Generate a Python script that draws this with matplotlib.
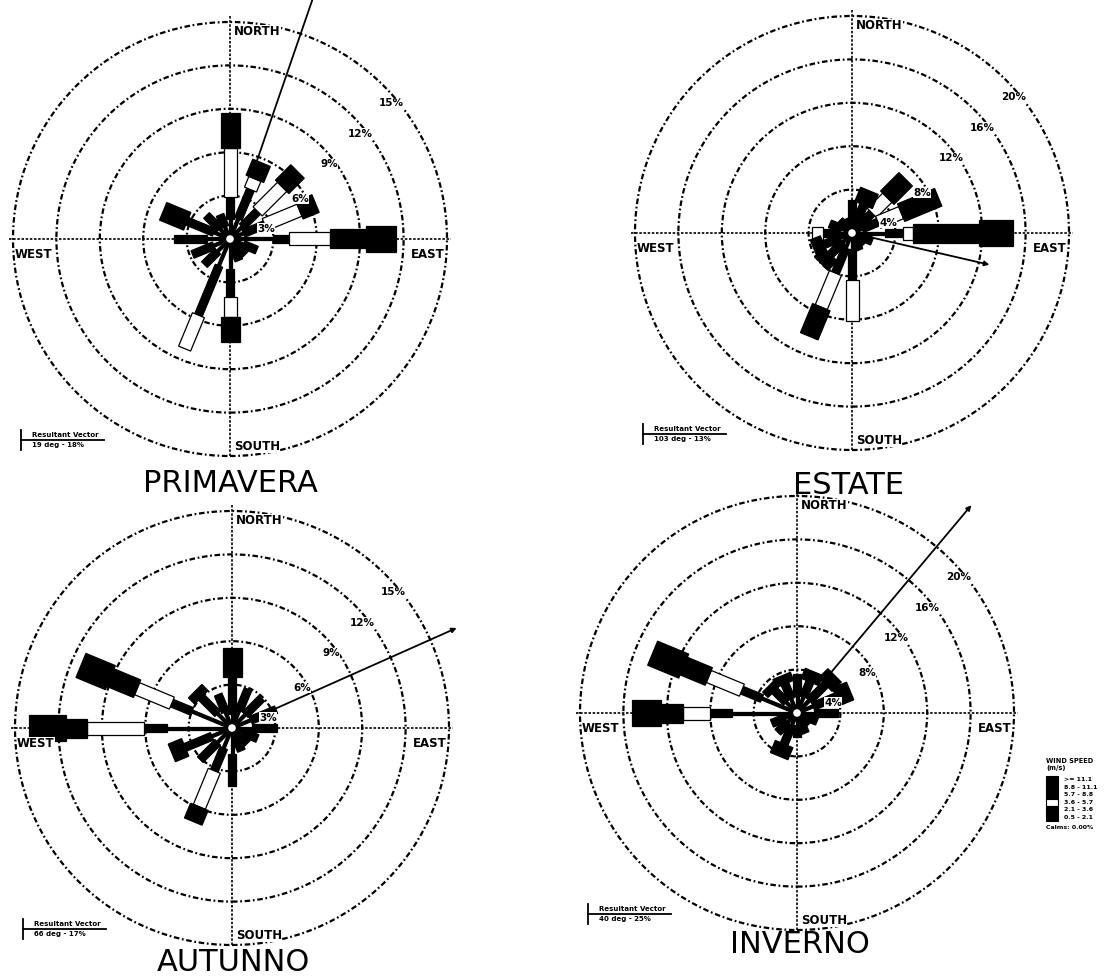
"""
Rose dei venti stagionali: frequenza (%) per direzione di provenienza e classe di velocità.
Quattro pannelli (PRIMAVERA, ESTATE, AUTUNNO, INVERNO) in stile WRPLOT bianco/nero.
"""

import numpy as np
import matplotlib
matplotlib.use('Agg')
import matplotlib.pyplot as plt
from matplotlib.patches import Polygon, Circle, Rectangle

FIG_W, FIG_H = 1109, 980

DIRECTIONS = ['N', 'NNE', 'NE', 'ENE', 'E', 'ESE', 'SE', 'SSE',
              'S', 'SSW', 'SW', 'WSW', 'W', 'WNW', 'NW', 'NNW']
SPEED_CLASSES = ['0.5 - 2.1', '2.1 - 3.6', '3.6 - 5.7',
                 '5.7 - 8.8', '8.8 - 11.1', '>= 11.1']

# frequenze (%) per direzione, una colonna per classe di velocità
PRIMAVERA = [
    [1.4, 1.5, 3.4, 2.4, 0.0, 0.0],
    [1.5, 2.2, 0.8, 1.2, 0.0, 0.0],
    [1.2, 1.5, 2.4, 1.5, 0.0, 0.0],
    [1.0, 1.6, 2.6, 1.2, 0.0, 0.0],
    [3.0, 1.1, 2.8, 2.5, 2.1, 0.0],
    [1.0, 1.0, 0.0, 0.0, 0.0, 0.0],
    [0.8, 0.7, 0.0, 0.0, 0.0, 0.0],
    [0.8, 0.8, 0.0, 0.0, 0.0, 0.0],
    [2.1, 1.9, 1.4, 1.7, 0.0, 0.0],
    [2.0, 3.7, 2.5, 0.0, 0.0, 0.0],
    [1.2, 1.3, 0.0, 0.0, 0.0, 0.0],
    [1.2, 1.6, 0.0, 0.0, 0.0, 0.0],
    [1.6, 2.3, 0.0, 0.0, 0.0, 0.0],
    [1.2, 2.0, 0.0, 1.8, 0.0, 0.0],
    [1.0, 1.3, 0.0, 0.0, 0.0, 0.0],
    [0.9, 0.9, 0.0, 0.0, 0.0, 0.0],
]
ESTATE = [
    [1.2, 1.8, 0.0, 0.0, 0.0, 0.0],
    [1.2, 1.6, 0.0, 1.4, 0.0, 0.0],
    [1.0, 1.6, 2.0, 2.4, 0.0, 0.0],
    [1.0, 1.6, 2.3, 3.7, 0.0, 0.0],
    [3.0, 1.7, 0.9, 6.1, 3.1, 0.0],
    [1.0, 1.0, 0.0, 0.0, 0.0, 0.0],
    [0.8, 0.7, 0.0, 0.0, 0.0, 0.0],
    [0.9, 0.8, 0.0, 0.0, 0.0, 0.0],
    [1.5, 2.8, 3.8, 0.0, 0.0, 0.0],
    [1.5, 2.5, 3.4, 2.9, 0.0, 0.0],
    [1.2, 1.6, 0.0, 1.2, 0.0, 0.0],
    [1.2, 1.6, 0.0, 1.0, 0.0, 0.0],
    [1.2, 1.5, 1.0, 0.0, 0.0, 0.0],
    [1.0, 1.2, 0.0, 0.0, 0.0, 0.0],
    [0.8, 0.8, 0.0, 0.0, 0.0, 0.0],
    [0.7, 0.7, 0.0, 0.0, 0.0, 0.0],
]
AUTUNNO = [
    [1.0, 2.5, 0.0, 2.0, 0.0, 0.0],
    [1.3, 1.6, 0.0, 0.0, 0.0, 0.0],
    [1.3, 1.6, 0.0, 0.0, 0.0, 0.0],
    [1.4, 1.9, 0.0, 0.0, 0.0, 0.0],
    [1.4, 1.7, 0.0, 0.0, 0.0, 0.0],
    [0.9, 1.0, 0.0, 0.0, 0.0, 0.0],
    [0.8, 0.7, 0.0, 0.0, 0.0, 0.0],
    [0.8, 0.9, 0.0, 0.0, 0.0, 0.0],
    [1.8, 2.2, 0.0, 0.0, 0.0, 0.0],
    [1.5, 1.7, 2.7, 1.1, 0.0, 0.0],
    [1.4, 1.7, 0.0, 0.0, 0.0, 0.0],
    [1.5, 2.0, 0.0, 1.0, 0.0, 0.0],
    [4.5, 1.6, 3.9, 1.5, 2.5, 0.0],
    [3.0, 1.5, 2.6, 2.0, 2.2, 0.0],
    [1.4, 1.6, 0.0, 0.6, 0.0, 0.0],
    [1.2, 1.3, 0.0, 0.0, 0.0, 0.0],
]
INVERNO = [
    [1.6, 2.0, 0.0, 0.0, 0.0, 0.0],
    [1.6, 1.5, 0.0, 1.0, 0.0, 0.0],
    [1.6, 2.1, 0.0, 1.2, 0.0, 0.0],
    [1.6, 2.3, 0.0, 1.4, 0.0, 0.0],
    [1.6, 2.2, 0.0, 0.0, 0.0, 0.0],
    [1.0, 1.0, 0.0, 0.0, 0.0, 0.0],
    [0.8, 0.7, 0.0, 0.0, 0.0, 0.0],
    [1.0, 1.0, 0.0, 0.0, 0.0, 0.0],
    [1.1, 1.1, 0.0, 0.0, 0.0, 0.0],
    [1.3, 1.8, 0.0, 1.2, 0.0, 0.0],
    [1.2, 1.3, 0.0, 0.0, 0.0, 0.0],
    [1.2, 1.3, 0.0, 0.0, 0.0, 0.0],
    [6.0, 2.0, 2.5, 2.0, 2.7, 0.0],
    [3.5, 2.0, 3.3, 2.5, 3.1, 0.0],
    [1.4, 1.5, 0.0, 0.7, 0.0, 0.0],
    [1.4, 1.5, 0.0, 0.8, 0.0, 0.0],
]

RINGS_15 = [3, 6, 9, 12, 15]
RINGS_20 = [4, 8, 12, 16, 20]

# vettore risultante: direzione (gradi) e lunghezza (%)
RESULTANT_DEG = [19, 103, 66, 40]
RESULTANT_PCT = [18, 13, 17, 25]
CALMS_PCT = 0.00

# stile classi (dalla più debole alla più forte)
CLASS_FACE = ['black', 'black', 'white', 'black', 'black', 'black']
CLASS_WIDTH_PX = [3, 8, 13, 19, 26, 32]

RING_PX = 217          # raggio del cerchio esterno in pixel
RING_LABEL_BEARING = [74, 60, 53, 51, 50]

# layout pannelli: titolo, dati, anelli, centro (px), posizione titolo (px)
PANELS = [
    {"title": "PRIMAVERA", "data": PRIMAVERA, "rings": RINGS_15,
     "center": (230, 239), "title_xy": (230, 484)},
    {"title": "ESTATE", "data": ESTATE, "rings": RINGS_20,
     "center": (852, 233), "title_xy": (848, 486)},
    {"title": "AUTUNNO", "data": AUTUNNO, "rings": RINGS_15,
     "center": (232, 728), "title_xy": (233, 962)},
    {"title": "INVERNO", "data": INVERNO, "rings": RINGS_20,
     "center": (797, 713), "title_xy": (800, 944)},
]

RING_LS = (0, (2.5, 1.2, 0.8, 1.2))
AXIS_LS = (0, (1.5, 1.0))
BOLD = dict(fontweight='bold', color='black')


def draw_petal(ax, bearing, freqs, ppp):
    """Petalo a segmenti rettangolari impilati, larghezza crescente con la classe"""
    th = np.radians(bearing)
    u = np.array([np.sin(th), np.cos(th)])
    v = np.array([np.cos(th), -np.sin(th)])
    r0 = 0.0
    for k, f in enumerate(freqs):
        if f <= 0:
            continue
        r1 = r0 + f
        h = CLASS_WIDTH_PX[k] / 2 / ppp
        pts = [r0 * u - h * v, r1 * u - h * v, r1 * u + h * v, r0 * u + h * v]
        ax.add_patch(Polygon(pts, closed=True, facecolor=CLASS_FACE[k],
                             edgecolor='black', lw=0.9, zorder=3 + 0.1 * k))
        r0 = r1


def draw_panel(fig, panel, res_deg, res_pct):
    cx, cy = panel["center"]
    rings = panel["rings"]
    rmax = rings[-1]
    ppp = RING_PX / rmax
    half = 250

    ax = fig.add_axes([(cx - half) / FIG_W, (FIG_H - cy - half) / FIG_H,
                       2 * half / FIG_W, 2 * half / FIG_H])
    lim = half / ppp
    ax.set_xlim(-lim, lim)
    ax.set_ylim(-lim, lim)
    ax.axis('off')

    def px(v):
        return v / ppp

    # anelli e assi cardinali
    for r in rings:
        ax.add_patch(Circle((0, 0), r, fill=False, ec='black', lw=1.6,
                            ls=RING_LS, zorder=1))
    ax.plot([0, 0], [-rmax, rmax + px(6)], color='black', lw=1.2, ls=AXIS_LS, zorder=1)
    ax.plot([-rmax - px(4), rmax + px(4)], [0, 0], color='black', lw=1.2,
            ls=AXIS_LS, zorder=1)

    for r, b in zip(rings, RING_LABEL_BEARING):
        t = np.radians(b)
        rr = r - px(6)
        ax.text(rr * np.sin(t), rr * np.cos(t), f'{r}%', fontsize=7.5,
                ha='center', va='center', zorder=7,
                bbox=dict(fc='white', ec='none', pad=0.2), **BOLD)

    lab_kw = dict(fontsize=8.5, zorder=8,
                  bbox=dict(fc='white', ec='none', pad=0.1), **BOLD)
    ax.text(px(4), rmax - px(3), 'NORTH', ha='left', va='top', **lab_kw)
    ax.text(px(4), -rmax + px(3), 'SOUTH', ha='left', va='bottom', **lab_kw)
    ax.text(rmax - px(2), -px(9), 'EAST', ha='right', va='top', **lab_kw)
    ax.text(-rmax + px(2), -px(9), 'WEST', ha='left', va='top', **lab_kw)

    # vettore risultante
    t = np.radians(res_deg)
    ax.annotate('', xy=(res_pct * np.sin(t), res_pct * np.cos(t)), xytext=(0, 0),
                arrowprops=dict(arrowstyle='-|>', color='black', lw=1.3,
                                mutation_scale=7, shrinkA=0, shrinkB=0),
                annotation_clip=False, zorder=2)

    for i, freqs in enumerate(panel["data"]):
        draw_petal(ax, i * 22.5, freqs, ppp)

    ax.add_patch(Circle((0, 0), px(4.5), fc='white', ec='black', lw=1.0, zorder=6))

    # legenda del vettore risultante
    x0, y0 = px(-209), px(-201)
    ax.plot([x0, x0], [y0 - px(10), y0 + px(10)], color='black', lw=1.3, clip_on=False)
    ax.plot([x0, x0 + px(83)], [y0, y0], color='black', lw=1.3, clip_on=False)
    ax.text(x0 + px(11), y0 + px(2), 'Resultant Vector', fontsize=5,
            ha='left', va='bottom', **BOLD)
    ax.text(x0 + px(11), y0 - px(2), f'{res_deg} deg - {res_pct}%', fontsize=5,
            ha='left', va='top', **BOLD)

    tx, ty = panel["title_xy"]
    fig.text(tx / FIG_W, 1 - ty / FIG_H, panel["title"], fontsize=22,
             ha='center', va='center', color='black')


def draw_legend(fig):
    lax = fig.add_axes([1040 / FIG_W, (FIG_H - 840) / FIG_H, 69 / FIG_W, 90 / FIG_H])
    lax.set_xlim(0, 69)
    lax.set_ylim(90, 0)
    lax.axis('off')
    lax.text(6, 11, 'WIND SPEED', fontsize=4.8, ha='left', va='center', **BOLD)
    lax.text(6, 18, '(m/s)', fontsize=4.8, ha='left', va='center', **BOLD)
    top = 26
    box_h = 7.5
    for j, k in enumerate(range(len(SPEED_CLASSES) - 1, -1, -1)):
        y = top + j * box_h
        lax.add_patch(Rectangle((6, y), 12, box_h, facecolor=CLASS_FACE[k],
                                edgecolor='black', lw=0.8))
        lax.text(24, y + box_h / 2, SPEED_CLASSES[k], fontsize=4.5,
                 ha='left', va='center', **BOLD)
    lax.text(6, top + 6 * box_h + 6, f'Calms: {CALMS_PCT:.2f}%', fontsize=4.5,
             ha='left', va='center', **BOLD)


def main():
    fig = plt.figure(figsize=(FIG_W / 100, FIG_H / 100), dpi=100)
    fig.patch.set_facecolor('white')
    for panel, deg, pct in zip(PANELS, RESULTANT_DEG, RESULTANT_PCT):
        draw_panel(fig, panel, deg, pct)
    draw_legend(fig)
    fig.savefig('out.png', dpi=100, facecolor='white')
    plt.close(fig)


if __name__ == "__main__":
    main()
